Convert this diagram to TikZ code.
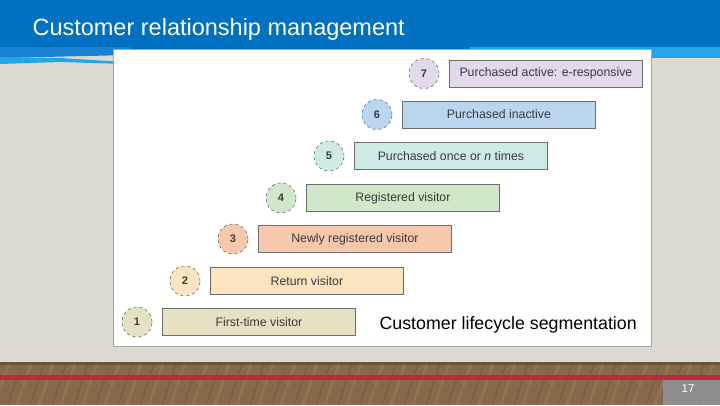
\documentclass[tikz,border=0pt]{standalone}
\usepackage{fontspec}
\setmainfont{Liberation Sans}
\usetikzlibrary{positioning}
\definecolor{hdrblue}{HTML}{0070C0}
\definecolor{midblue}{HTML}{1A82D2}
\definecolor{ltblue}{HTML}{22A6E6}
\definecolor{wall}{HTML}{DCD9D2}
\definecolor{wood}{HTML}{86684A}
\definecolor{wooddk}{HTML}{5E4428}
\definecolor{woodlt}{HTML}{B39570}
\definecolor{redline}{HTML}{C02840}
\definecolor{pgbox}{HTML}{8E8E8E}
\definecolor{txtgray}{HTML}{3A3A3A}
\definecolor{bordergray}{HTML}{6E6E6E}
\definecolor{cOne}{HTML}{E7E1C4}
\definecolor{cTwo}{HTML}{FDE4C0}
\definecolor{cThree}{HTML}{F8C8AD}
\definecolor{cFour}{HTML}{D0E7C9}
\definecolor{cFive}{HTML}{CEEAE7}
\definecolor{cSix}{HTML}{BAD6EF}
\definecolor{cSeven}{HTML}{E2DAEC}
\tikzset{
  stagebox/.style={draw=bordergray, line width=0.8pt, minimum width=193pt, minimum height=27pt,
    inner sep=0pt, anchor=west, font=\fontsize{12.3}{13}\selectfont, text=txtgray},
  stagenum/.style={circle, draw=bordergray, dashed, line width=0.6pt, minimum size=30pt,
    inner sep=0pt, font=\bfseries\fontsize{11}{12}\selectfont, text=txtgray}
}
\begin{document}
\begin{tikzpicture}[x=1pt,y=-1pt]
\useasboundingbox (0,0) rectangle (720,405);
% wall
\fill[wall] (0,0) rectangle (720,365);
% header
\fill[hdrblue] (0,0) rectangle (720,49);
\fill[ltblue] (470,47) rectangle (720,58);
\fill[midblue] (0,47) -- (130,47) -- (130,55) -- (0,58) -- cycle;
\fill[ltblue] (0,57) -- (60,58) -- (125,62) -- (125,64) -- (60,62) -- (0,64) -- cycle;
\node[anchor=west, text=white, font=\fontsize{23.5}{26}\selectfont] (title) at (29,29) {Customer relationship management};
% floor
\fill[wood] (0,362) rectangle (720,405);
\fill[wooddk!60!wood] (0,362) rectangle (720,365);
\foreach \x in {0,22,...,740}{
  \draw[wooddk, line width=0.6pt, opacity=0.5] (\x,364) -- (\x-14,405);
  \draw[woodlt, line width=3pt, opacity=0.25] (\x+9,364) -- (\x-5,405);
}
\fill[redline] (0,375) rectangle (720,379.5);
\fill[pgbox] (663,379.5) rectangle (720,405);
\node[text=white, font=\fontsize{11.5}{12}\selectfont] (pg) at (688,389) {17};
% panel
\fill[white] (113,49.5) rectangle (651,346);
\draw[gray!70, line width=0.6pt] (113,49.5) rectangle (651,346);
% stages
\node[stagebox, fill=cOne] (b1) at (162,322) {First-time visitor};
\node[stagebox, fill=cTwo] (b2) at (210,281) {Return visitor};
\node[stagebox, fill=cThree] (b3) at (258,239) {Newly registered visitor};
\node[stagebox, fill=cFour] (b4) at (306,198) {Registered visitor};
\node[stagebox, fill=cFive] (b5) at (354,156) {Purchased once or \textit{n} times};
\node[stagebox, fill=cSix] (b6) at (402,114.5) {Purchased inactive};
\node[stagebox, fill=cSeven] (b7) at (449,73.5) {Purchased active: e-responsive};
\node[stagenum, fill=cOne] (c1) at (137,322) {1};
\node[stagenum, fill=cTwo] (c2) at (185,281) {2};
\node[stagenum, fill=cThree] (c3) at (233,239) {3};
\node[stagenum, fill=cFour] (c4) at (281,198) {4};
\node[stagenum, fill=cFive] (c5) at (329,156) {5};
\node[stagenum, fill=cSix] (c6) at (377,114.5) {6};
\node[stagenum, fill=cSeven] (c7) at (424,73.5) {7};
\node[anchor=west, font=\fontsize{17.8}{20}\selectfont] (cap) at (376,325) {Customer lifecycle segmentation};
\end{tikzpicture}
\end{document}
